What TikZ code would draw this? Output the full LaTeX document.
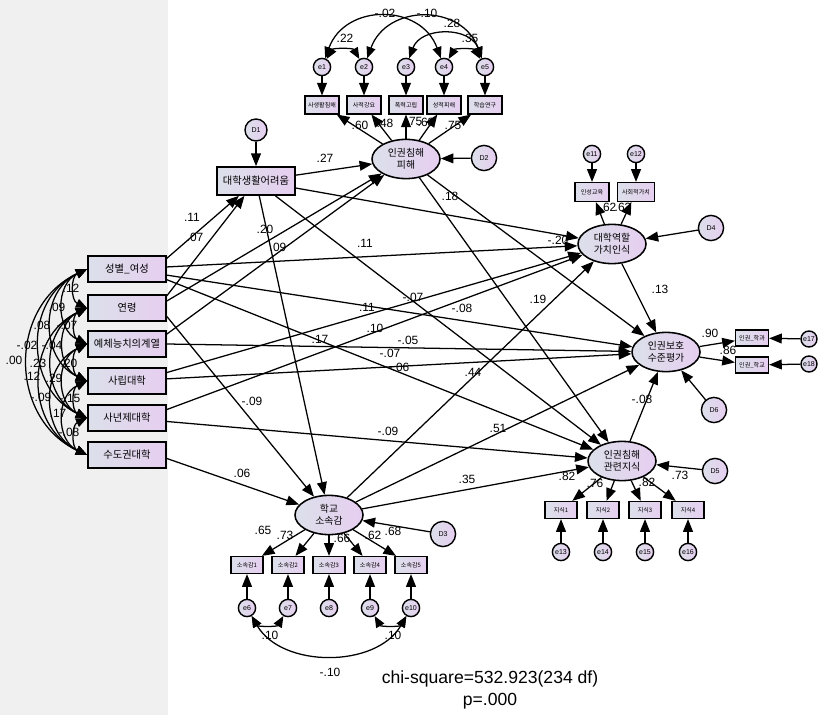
\documentclass[tikz,border=0pt]{standalone}
\usepackage{fontspec}
\setmainfont{Liberation Sans}
\newfontfamily\kr{Noto Sans CJK KR}
\usetikzlibrary{arrows.meta,shapes.geometric}
\definecolor{boxL}{RGB}{220,224,234}
\definecolor{boxR}{RGB}{230,206,240}
\definecolor{bandgray}{RGB}{240,240,240}
\tikzset{
  obs/.style={rectangle, draw, line width=1.2pt, left color=boxL, right color=boxR,
    minimum width=1.95cm, minimum height=0.65cm, inner sep=0pt, font=\kr\fontsize{7.3}{8}\selectfont},
  ind/.style={obs, line width=1pt, minimum width=0.85cm, minimum height=0.44cm, font=\kr\fontsize{4.3}{5}\selectfont},
  lat/.style={ellipse, draw, line width=1.1pt, left color=boxL, right color=boxR,
    minimum width=1.7cm, minimum height=0.98cm, inner sep=0pt, align=center, font=\kr\fontsize{7}{8.5}\selectfont},
  err/.style={circle, draw, line width=1pt, left color=boxL, right color=boxR,
    minimum size=0.43cm, inner sep=0pt, font=\fontsize{5}{5}\selectfont},
  dist/.style={err, minimum size=0.63cm},
  reg/.style={-{Triangle[length=9pt,width=7pt]}, line width=0.9pt},
  cov/.style={{Triangle[length=8pt,width=6.5pt]}-{Triangle[length=8pt,width=6.5pt]}, line width=0.9pt},
  est/.style={inner sep=0pt, font=\fontsize{8.5}{9}\selectfont}
}
\begin{document}
\begin{tikzpicture}[x=0.025cm,y=-0.025cm]
  \useasboundingbox (0,0) rectangle (820,715);
  \fill[white] (0,0) rectangle (820,715);
  \fill[bandgray] (0,0) rectangle (168,715);

  % exogenous
  \node[obs] (sex) at (127,269) {성별\_여성};
  \node[obs] (age) at (127,308) {연령};
  \node[obs] (arts) at (127,344) {예체능치의계열};
  \node[obs] (priv) at (127,381) {사립대학};
  \node[obs] (four) at (127,418) {사년제대학};
  \node[obs] (metro) at (127,455) {수도권대학};

  % endogenous
  \node[obs, minimum height=0.7cm] (diff) at (256,181) {대학생활어려움};
  \node[dist, minimum size=0.55cm] (D1) at (256,130) {D1};
  \node[lat] (vict) at (406,159) {인권침해\\피해};
  \node[dist] (D2) at (484,158) {D2};
  \node[lat] (role) at (612,244) {대학역할\\가치인식};
  \node[dist] (D4) at (711,228) {D4};
  \node[lat] (prot) at (666,352) {인권보호\\수준평가};
  \node[dist] (D6) at (714,410) {D6};
  \node[lat] (know) at (622,461) {인권침해\\관련지식};
  \node[dist] (D5) at (715,471) {D5};
  \node[lat] (belong) at (329,515) {학교\\소속감};
  \node[dist] (D3) at (443,534) {D3};

  % indicators
  \foreach \i/\x/\t in {1/322/사생활침해,2/364/사적강요,3/406/폭력고립,4/444/성적피해,5/485/학습연구}{
    \node[ind] (t\i) at (\x,105) {\t};
    \node[err] (e\i) at (\x,67) {e\i};
    \draw[reg] (e\i) -- (t\i);
    \draw[reg] (vict) -- (t\i);
  }
  \node[ind, minimum height=0.47cm] (r1) at (592,192) {인성교육};
  \node[ind, minimum width=0.93cm, minimum height=0.47cm] (r2) at (636,192) {사회적가치};
  \node[err] (e11) at (592,154) {e11};
  \node[err] (e12) at (636,154) {e12};
  \draw[reg] (e11) -- (r1);
  \draw[reg] (e12) -- (r2);
  \draw[reg] (role) -- (r1);
  \draw[reg] (role) -- (r2);
  \node[ind, minimum width=0.82cm, minimum height=0.4cm] (p1) at (752,338) {인권\_학과};
  \node[ind, minimum width=0.82cm, minimum height=0.4cm] (p2) at (752,365) {인권\_학교};
  \node[err, minimum size=0.4cm] (e17) at (809,339) {e17};
  \node[err, minimum size=0.4cm] (e18) at (809,364) {e18};
  \draw[reg] (e17) -- (p1);
  \draw[reg] (e18) -- (p2);
  \draw[reg] (prot) -- (p1);
  \draw[reg] (prot) -- (p2);
  \foreach \i/\x/\e in {1/561/13,2/603/14,3/645/15,4/688/16}{
    \node[ind, minimum width=0.8cm, minimum height=0.42cm] (k\i) at (\x,510) {지식\i};
    \node[err] (e\e) at (\x,552) {e\e};
    \draw[reg] (e\e) -- (k\i);
    \draw[reg] (know) -- (k\i);
  }
  \foreach \i/\x/\e in {1/247/6,2/288/7,3/329/8,4/370/9,5/411/10}{
    \node[ind, minimum width=0.8cm, minimum height=0.42cm] (s\i) at (\x,565) {소속감\i};
    \node[err] (e\e) at (\x,608) {e\e};
    \draw[reg] (e\e) -- (s\i);
    \draw[reg] (belong) -- (s\i);
  }

  % disturbances
  \draw[reg] (D1) -- (diff);
  \draw[reg] (D2) -- (vict);
  \draw[reg] (D3) -- (belong);
  \draw[reg] (D4) -- (role);
  \draw[reg] (D5) -- (know);
  \draw[reg] (D6) -- (prot);

  % structural paths
  \draw[reg] (sex.15) -- (diff);
  \draw[reg] (age.17) -- (diff);
  \draw[reg] (diff) -- (vict);
  \draw[reg] (age.10) -- (vict);
  \draw[reg] (arts.14) -- (vict);
  \draw[reg] (diff) -- (role);
  \draw[reg] (diff) -- (know);
  \draw[reg] (diff) -- (belong);
  \draw[reg] (sex) -- (role);
  \draw[reg] (sex) -- (prot);
  \draw[reg] (sex.-15) -- (know);
  \draw[reg] (age.-12) -- (belong);
  \draw[reg] (arts.east) -- (prot);
  \draw[reg] (priv.12) -- (role);
  \draw[reg] (priv) -- (prot);
  \draw[reg] (four.12) -- (role);
  \draw[reg] (four.-5) -- (know);
  \draw[reg] (metro.-5) -- (belong);
  \draw[reg] (vict) -- (prot);
  \draw[reg] (vict) -- (know);
  \draw[reg] (role) -- (prot);
  \draw[reg] (belong) -- (role);
  \draw[reg] (belong) -- (prot);
  \draw[reg] (belong) -- (know);
  \draw[reg] (know) -- (prot);

  % covariances
  \foreach \a/\b in {sex/age,sex/arts,sex/priv,sex/four,sex/metro,age/arts,age/priv,age/four,age/metro,
                     arts/priv,arts/four,arts/metro,priv/four,priv/metro,four/metro}
    \draw[cov] (\a.west) to[bend right=65, looseness=1.2] (\b.west);
  \draw[cov] (e1) to[bend left=60] (e2);
  \draw[cov] (e1) to[bend left=70, looseness=1.3] (e4);
  \draw[cov] (e2) to[bend left=70, looseness=1.3] (e5);
  \draw[cov] (e3) to[bend left=70, looseness=1.2] (e5);
  \draw[cov] (e4) to[bend left=60] (e5);
  \draw[cov] (e6) to[bend right=60] (e7);
  \draw[cov] (e9) to[bend right=60] (e10);
  \draw[cov] (e6) to[bend right=60] (e10);

  % estimates
  \foreach \t/\x/\y [count=\k] in {.11/192/217,.07/195/237,.27/325/158,.20/265/229,.09/278/247,
      .11/365/243,.18/450/196,.11/367/307,-.07/413/297,-.08/462/308,.10/375/328,.17/320/339,
      -.05/408/340,-.07/390/353,-.06/399/367,.44/473/372,-.09/252/401,-.09/388/431,-.20/558/240,
      .19/538/299,.13/660/289,-.08/642/399,.51/498/428,.06/242/473,.35/467/479,
      .60/360/125,.48/385/123,.75/414/121,.63/426/122,.75/453/125,.62/608/207,.63/623/207,
      .90/710/333,.86/728/350,.82/567/476,.76/595/483,.82/647/482,.73/680/475,
      .65/263/530,.73/285/535,.66/342/538,.62/373/535,.68/393/531,
      .22/345/38,-.02/385/13,-.10/427/13,.28/452/23,.35/470/38,
      .10/270/635,.10/393/635,-.10/330/672,
      .12/71/288,.09/57/307,.08/42/325,-.07/67/325,-.02/27/345,-.04/52/345,.00/14/360,
      .23/38/363,.20/69/363,.12/32/376,.29/54/378,-.09/41/397,-.15/70/398,.17/58/413,-.08/69/432}
    \node[est] (est\k) at (\x,\y) {\t};

  \node[align=center, font=\fontsize{12.5}{15.5}\selectfont] (fit) at (490,690) {chi-square=532.923(234 df)\\p=.000};
\end{tikzpicture}
\end{document}
